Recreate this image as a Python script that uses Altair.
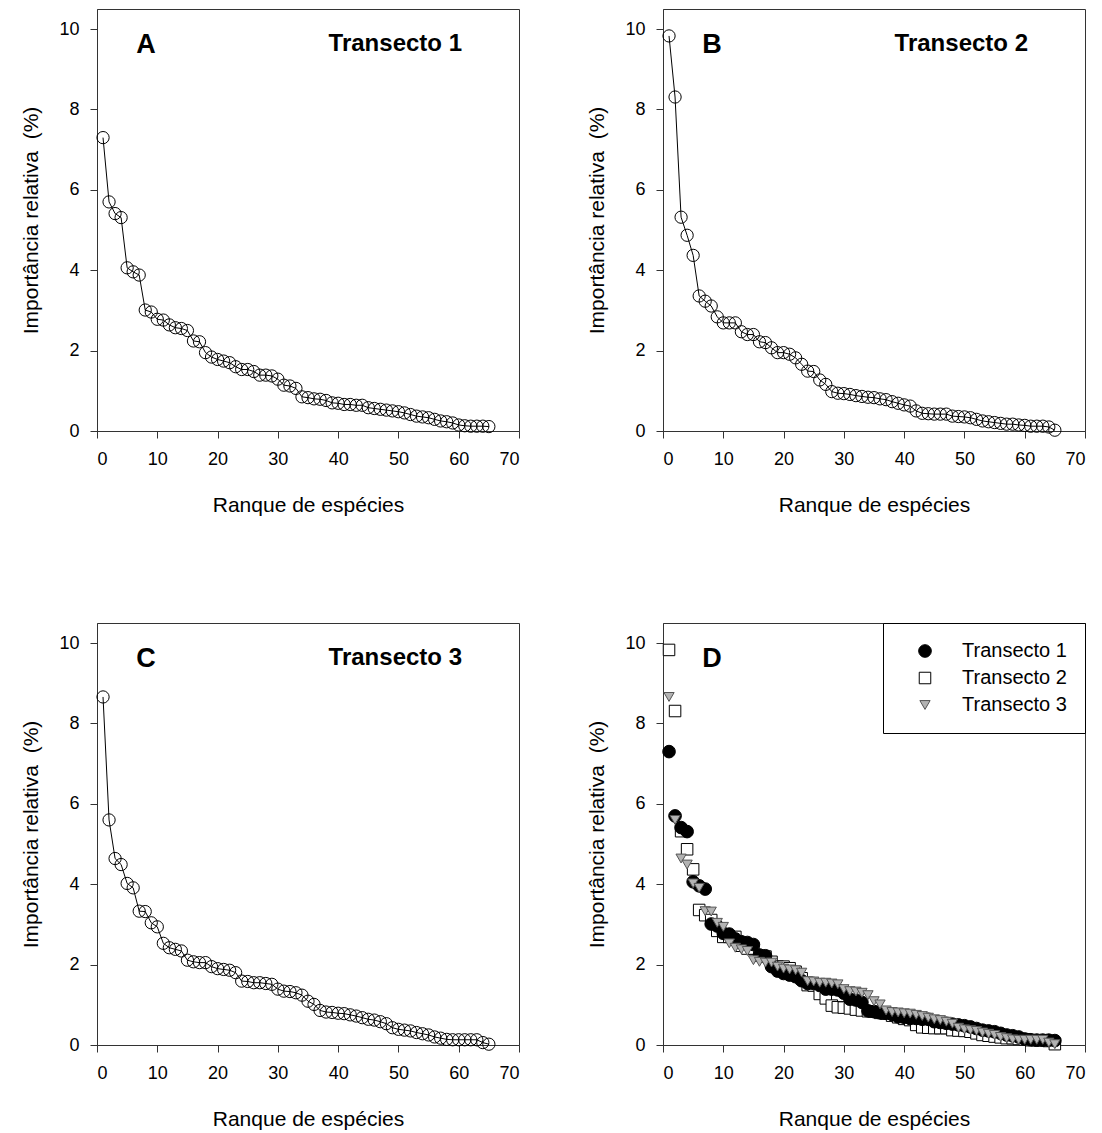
import altair as alt
import pandas as pd

# Rank-abundance data: relative importance (%) of each species rank, per transect
ranks = list(range(1, 66))

transecto_1 = [
    7.30, 5.70, 5.41, 5.31, 4.06, 3.96, 3.88, 3.01, 2.96, 2.78,
    2.76, 2.64, 2.57, 2.55, 2.50, 2.24, 2.22, 1.95, 1.84, 1.78,
    1.74, 1.70, 1.60, 1.53, 1.53, 1.48, 1.39, 1.39, 1.37, 1.29,
    1.14, 1.12, 1.06, 0.85, 0.83, 0.80, 0.79, 0.76, 0.70, 0.69,
    0.66, 0.66, 0.64, 0.64, 0.58, 0.56, 0.54, 0.52, 0.50, 0.48,
    0.45, 0.41, 0.37, 0.35, 0.33, 0.29, 0.25, 0.23, 0.20, 0.15,
    0.13, 0.12, 0.12, 0.12, 0.11,
]

transecto_2 = [
    9.83, 8.31, 5.32, 4.87, 4.37, 3.36, 3.23, 3.11, 2.84, 2.69,
    2.69, 2.69, 2.47, 2.40, 2.40, 2.22, 2.20, 2.07, 1.95, 1.95,
    1.91, 1.82, 1.66, 1.49, 1.48, 1.27, 1.16, 0.98, 0.94, 0.93,
    0.91, 0.88, 0.86, 0.84, 0.83, 0.80, 0.78, 0.73, 0.69, 0.65,
    0.62, 0.50, 0.44, 0.43, 0.42, 0.42, 0.42, 0.37, 0.36, 0.35,
    0.33, 0.29, 0.25, 0.23, 0.21, 0.19, 0.17, 0.17, 0.15, 0.14,
    0.12, 0.12, 0.12, 0.10, 0.02,
]

transecto_3 = [
    8.66, 5.60, 4.64, 4.49, 4.02, 3.91, 3.33, 3.32, 3.04, 2.94,
    2.53, 2.42, 2.38, 2.34, 2.11, 2.07, 2.05, 2.05, 1.95, 1.90,
    1.88, 1.86, 1.80, 1.59, 1.58, 1.55, 1.55, 1.53, 1.51, 1.39,
    1.34, 1.33, 1.30, 1.24, 1.09, 1.01, 0.86, 0.82, 0.81, 0.79,
    0.78, 0.75, 0.72, 0.68, 0.64, 0.62, 0.58, 0.53, 0.43, 0.39,
    0.37, 0.35, 0.31, 0.28, 0.25, 0.20, 0.17, 0.14, 0.13, 0.13,
    0.13, 0.13, 0.13, 0.06, 0.02,
]

series_names = ["Transecto 1", "Transecto 2", "Transecto 3"]
panel_letters = ["A", "B", "C", "D"]
x_ticks = [0, 10, 20, 30, 40, 50, 60, 70]
y_ticks = [0, 2, 4, 6, 8, 10]

FONT = "Liberation Sans"
SIDE = 422
FRAME = "#333333"

x_enc = alt.X(
    "rank:Q",
    scale=alt.Scale(domain=[0, 70], nice=False, zero=False),
    axis=alt.Axis(title="Ranque de espécies", values=x_ticks, labelPadding=12, titlePadding=26),
)
y_enc = alt.Y(
    "valor:Q",
    scale=alt.Scale(domain=[0, 10.5], nice=False),
    axis=alt.Axis(title="Importância relativa\u00a0 (%)", values=y_ticks, labelPadding=11, titlePadding=17),
)


def corner_labels(letter, name=None):
    layers = [
        alt.Chart(pd.DataFrame({"t": [letter]}))
        .mark_text(font=FONT, fontSize=27, fontWeight="bold", color="black",
                   align="center", baseline="middle")
        .encode(text="t:N", x=alt.value(49), y=alt.value(36))
    ]
    if name is not None:
        layers.append(
            alt.Chart(pd.DataFrame({"t": [name]}))
            .mark_text(font=FONT, fontSize=24, fontWeight="bold", color="black",
                       align="right", baseline="middle")
            .encode(text="t:N", x=alt.value(SIDE - 57), y=alt.value(35))
        )
    return layers


def rank_panel(values, letter, name):
    df = pd.DataFrame({"rank": ranks, "valor": values})
    base = alt.Chart(df).encode(x=x_enc, y=y_enc)
    line = base.mark_line(color="black", strokeWidth=1)
    dots = base.mark_point(shape="circle", size=150, filled=False, color="black",
                           strokeWidth=1, opacity=1)
    return alt.layer(line, dots, *corner_labels(letter, name)).properties(width=SIDE, height=SIDE)


panel_a = rank_panel(transecto_1, panel_letters[0], series_names[0])
panel_b = rank_panel(transecto_2, panel_letters[1], series_names[1])
panel_c = rank_panel(transecto_3, panel_letters[2], series_names[2])

# Combined panel: squares drawn first, then circles, triangles on top
frames = []
for name, vals in [(series_names[1], transecto_2), (series_names[0], transecto_1), (series_names[2], transecto_3)]:
    frames.append(pd.DataFrame({"rank": ranks, "valor": vals, "serie": name}))
df_all = pd.concat(frames, ignore_index=True)

legend = alt.Legend(
    title=None, orient="top-right", offset=0, padding=18, rowPadding=7,
    symbolOffset=14, labelOffset=27, labelFont=FONT, labelFontSize=20,
    labelColor="black", strokeColor="black", fillColor="white",
    symbolStrokeWidth=1,
)
combined = (
    alt.Chart(df_all)
    .mark_point(filled=True, opacity=1, strokeWidth=1)
    .encode(
        x=x_enc,
        y=y_enc,
        shape=alt.Shape("serie:N", scale=alt.Scale(domain=series_names,
                        range=["circle", "square", "triangle-down"]), legend=legend),
        fill=alt.Fill("serie:N", scale=alt.Scale(domain=series_names,
                      range=["black", "white", "#b3b3b3"]), legend=legend),
        stroke=alt.Stroke("serie:N", scale=alt.Scale(domain=series_names,
                          range=["black", "black", "#555555"]), legend=legend),
        size=alt.Size("serie:N", scale=alt.Scale(domain=series_names,
                      range=[160, 105, 160]), legend=legend),
    )
)
panel_d = alt.layer(combined, *corner_labels(panel_letters[3])).properties(width=SIDE, height=SIDE)

chart = (
    alt.concat(panel_a, panel_b, panel_c, panel_d, columns=2,
               spacing={"row": 192, "column": 144}, bounds="flush")
    .resolve_scale(shape="independent", fill="independent", stroke="independent", size="independent")
    .resolve_legend(shape="independent", fill="independent", stroke="independent", size="independent")
    .properties(padding={"left": 20, "top": 8, "right": 5, "bottom": 5})
    .configure_view(stroke=FRAME, strokeWidth=1)
    .configure_axis(
        labelFont=FONT, labelFontSize=18, labelColor="black",
        titleFont=FONT, titleFontSize=21, titleFontWeight="normal", titleColor="black",
        tickSize=7, tickColor=FRAME, domainColor=FRAME, grid=False,
    )
)

chart.save("out.html", embed_options={"renderer": "svg", "actions": False})
